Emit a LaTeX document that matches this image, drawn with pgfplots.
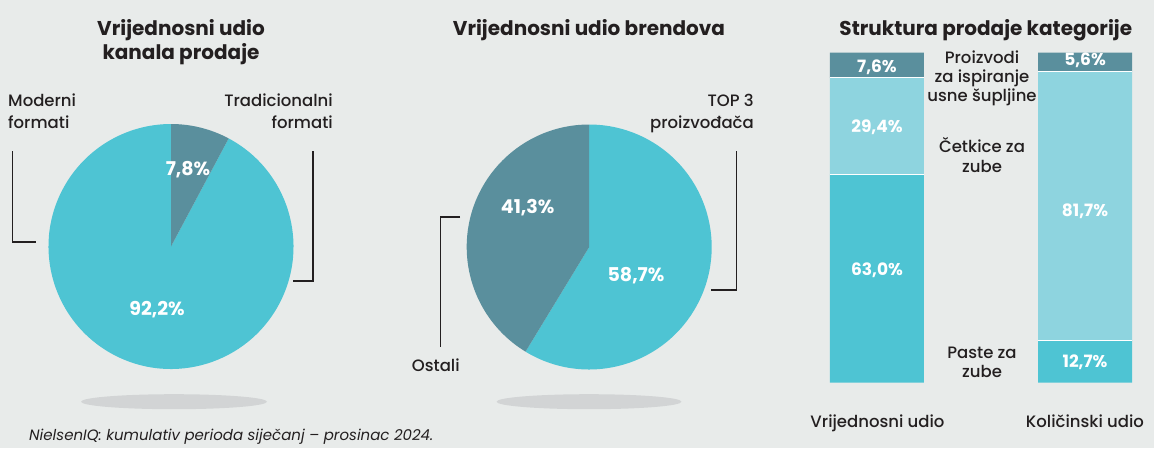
\documentclass[border=0pt]{standalone}
\usepackage{pgfplots}
\pgfplotsset{compat=1.18}
\usepackage{fontspec}
\setmainfont{Poppins}[UprightFont={* Medium},BoldFont={* Bold},ItalicFont={* Italic}]
\definecolor{bgc}{HTML}{E8EBEA}
\definecolor{tealc}{HTML}{4EC4D3}
\definecolor{darkc}{HTML}{5A8F9D}
\definecolor{lightc}{HTML}{8ED4DF}
\definecolor{shadowc}{HTML}{D2D4D5}
\definecolor{txt}{HTML}{231F20}
\newcommand\lbl{\fontsize{16.5}{20}\selectfont}
\newcommand\ttl{\fontsize{20}{24}\selectfont\bfseries}
\newcommand\pct{\fontsize{19}{23}\selectfont\bfseries}
\newcommand\bpct{\fontsize{17}{20}\selectfont\bfseries}
% data
\newcommand\pieAdark{7.8}  \newcommand\pieAteal{92.2}
\newcommand\pieBdark{41.3} \newcommand\pieBteal{58.7}
\begin{document}
\begin{tikzpicture}
\useasboundingbox (0,0) rectangle (1154pt,448pt);
\fill[bgc] (0,0) rectangle (1154pt,448pt);
\begin{axis}[at={(0pt,0pt)},anchor=south west,scale only axis,width=1154pt,height=448pt,
  xmin=0,xmax=1154,ymin=0,ymax=448,y dir=reverse,hide axis,clip=false]
% ---------- pie 1
\pgfmathsetmacro\aA{90-\pieAdark*3.6}
\pgfmathsetmacro\aAend{\aA-\pieAteal*3.6}
\fill[shadowc] (axis cs:174,401.7) ellipse [x radius=93pt, y radius=7.5pt];
\fill[tealc] (axis cs:171,246.5) -- ++(\aA:122.5pt) arc[start angle=\aA, end angle=\aAend, radius=122.5pt] -- cycle;
\fill[darkc] (axis cs:171,246.5) -- ++(90:122.5pt) arc[start angle=90, end angle=\aA, radius=122.5pt] -- cycle;
\node[white,inner sep=0] at (axis cs:188,170) {\pct 7,8\%};
\node[white,inner sep=0] at (axis cs:157,310) {\pct 92,2\%};
\draw[txt,line width=1.2pt] (axis cs:12.3,151) -- (axis cs:12.3,242) -- (axis cs:36,242);
\draw[txt,line width=1.2pt] (axis cs:313,151) -- (axis cs:313,281) -- (axis cs:293,281);
\node[txt,anchor=base west,inner sep=0] at (axis cs:8,106) {\lbl Moderni};
\node[txt,anchor=base west,inner sep=0] at (axis cs:8,128) {\lbl formati};
\node[txt,anchor=base east,inner sep=0] at (axis cs:333,106) {\lbl Tradicionalni};
\node[txt,anchor=base east,inner sep=0] at (axis cs:333,128) {\lbl formati};
\node[txt,anchor=base,inner sep=0] at (axis cs:181,35) {\ttl Vrijednosni udio};
\node[txt,anchor=base,inner sep=0] at (axis cs:181,59) {\ttl kanala prodaje};
% ---------- pie 2
\pgfmathsetmacro\bA{90+\pieBdark*3.6}
\pgfmathsetmacro\bAend{\bA+\pieBteal*3.6}
\fill[shadowc] (axis cs:589,401.7) ellipse [x radius=92.5pt, y radius=7.5pt];
\fill[tealc] (axis cs:589.2,247) -- ++(\bA:122.5pt) arc[start angle=\bA, end angle=\bAend, radius=122.5pt] -- cycle;
\fill[darkc] (axis cs:589.2,247) -- ++(90:122.5pt) arc[start angle=90, end angle=\bA, radius=122.5pt] -- cycle;
\node[white,inner sep=0] at (axis cs:527.7,208) {\pct 41,3\%};
\node[white,inner sep=0] at (axis cs:636,276) {\pct 58,7\%};
\draw[txt,line width=1.2pt] (axis cs:460,217) -- (axis cs:440.7,217) -- (axis cs:440.7,347);
\draw[txt,line width=1.2pt] (axis cs:736.7,151) -- (axis cs:736.7,290) -- (axis cs:711,290);
\node[txt,anchor=base east,inner sep=0] at (axis cs:754,106) {\lbl TOP 3};
\node[txt,anchor=base east,inner sep=0] at (axis cs:754,128) {\lbl proizvođača};
\node[txt,anchor=base west,inner sep=0] at (axis cs:411.7,371.7) {\lbl Ostali};
\node[txt,anchor=base,inner sep=0] at (axis cs:589,35) {\ttl Vrijednosni udio brendova};
% ---------- bar chart texts
\node[txt,anchor=base,inner sep=0] at (axis cs:985.8,35) {\ttl Struktura prodaje kategorije};
\node[txt,anchor=base,inner sep=0] at (axis cs:982,63.3) {\lbl Proizvodi};
\node[txt,anchor=base,inner sep=0] at (axis cs:982,82.7) {\lbl za ispiranje};
\node[txt,anchor=base,inner sep=0] at (axis cs:982,101.7) {\lbl usne šupljine};
\node[txt,anchor=base,inner sep=0] at (axis cs:982,152.7) {\lbl Četkice za};
\node[txt,anchor=base,inner sep=0] at (axis cs:982,172.3) {\lbl zube};
\node[txt,anchor=base,inner sep=0] at (axis cs:982,358.3) {\lbl Paste za};
\node[txt,anchor=base,inner sep=0] at (axis cs:982,377.3) {\lbl zube};
\node[txt,anchor=base,inner sep=0] at (axis cs:877.5,427) {\lbl Vrijednosni udio};
\node[txt,anchor=base,inner sep=0] at (axis cs:1085,427) {\lbl Količinski udio};
% ---------- footnote
\node[txt,anchor=base west,inner sep=0] at (axis cs:29,440) {\fontsize{15}{18}\selectfont\itshape NielsenIQ: kumulativ perioda siječanj – prosinac 2024.};
\end{axis}
\begin{axis}[at={(830pt,65.3pt)},anchor=south west,scale only axis,width=302pt,height=330pt,
  xmin=-0.2257,xmax=1.2257,ymin=0,ymax=100,hide axis,clip=false,
  ybar stacked,bar width=94pt]
\addplot[fill=tealc,draw=none] coordinates {(0,63.0) (1,12.7)};
\addplot[fill=lightc,draw=none] coordinates {(0,29.4) (1,81.7)};
\addplot[fill=darkc,draw=none] coordinates {(0,7.6) (1,5.6)};
\end{axis}
\begin{axis}[at={(830pt,65.3pt)},anchor=south west,scale only axis,width=302pt,height=330pt,
  xmin=-0.2257,xmax=1.2257,ymin=0,ymax=100,hide axis,clip=false]
\draw[white,line width=0.9pt] (axis cs:-0.2257,63.0) -- (axis cs:0.2257,63.0);
\draw[white,line width=0.9pt] (axis cs:-0.2257,92.4) -- (axis cs:0.2257,92.4);
\draw[white,line width=0.9pt] (axis cs:0.7743,12.7) -- (axis cs:1.2257,12.7);
\draw[white,line width=0.9pt] (axis cs:0.7743,94.4) -- (axis cs:1.2257,94.4);
\node[white,inner sep=0] at (axis cs:0,34.2) {\bpct 63,0\%};
\node[white,inner sep=0] at (axis cs:0,77.5) {\bpct 29,4\%};
\node[white,inner sep=0] at (axis cs:0,95.6) {\bpct 7,6\%};
\node[white,inner sep=0] at (axis cs:1,6.2) {\bpct 12,7\%};
\node[white,inner sep=0] at (axis cs:1,51.8) {\bpct 81,7\%};
\node[white,inner sep=0] at (axis cs:1,97.6) {\bpct 5,6\%};
\end{axis}
\end{tikzpicture}
\end{document}
